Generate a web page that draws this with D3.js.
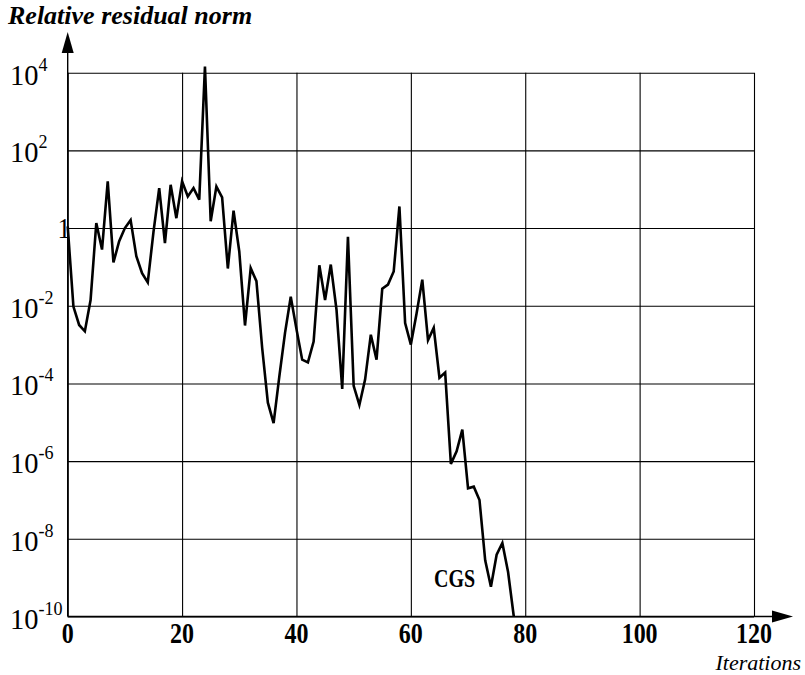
<!DOCTYPE html>
<html>
<head>
<meta charset="utf-8">
<script src="https://cdn.jsdelivr.net/npm/d3@7"></script>
<style>
  html, body { margin: 0; padding: 0; background: #fff; }
  svg { display: block; }
  text { font-family: "Liberation Serif", "Times New Roman", serif; fill: #000; }
</style>
</head>
<body>
<svg id="chart" width="805" height="675"></svg>
<script>
// CGS convergence history: relative residual norm per iteration
const iterations = [
  0, 1, 2, 3, 4, 5, 6, 7, 8, 9, 10, 11, 12, 13, 14, 15, 16, 17, 18, 19,
  20, 21, 22, 23, 24, 25, 26, 27, 28, 29, 30, 31, 32, 33, 34, 35, 36, 37, 38, 39,
  40, 41, 42, 43, 44, 45, 46, 47, 48, 49, 50, 51, 52, 53, 54, 55, 56, 57, 58, 59,
  60, 61, 62, 63, 64, 65, 66, 67, 68, 69, 70, 71, 72, 73, 74, 75, 76, 77, 78
];
const residualNorm = [
  1.1, 9.5e-3, 3.2e-3, 2.2e-3, 1.4e-2, 1.35, 0.28, 16, 0.13, 0.46,
  1.0, 1.6, 0.19, 0.069, 0.04, 0.8, 10.7, 0.41, 13, 1.8,
  16, 6.5, 10.7, 5.4, 1.45e4, 1.5, 11.7, 6.2, 0.091, 2.8,
  0.25, 3.1e-3, 0.093, 0.043, 8.3e-4, 3.2e-5, 9.5e-6, 1.5e-4, 2.0e-3, 1.7e-2,
  2.5e-3, 4.1e-4, 3.5e-4, 1.2e-3, 0.11, 0.014, 0.115, 7.9e-3, 7.2e-5, 0.6,
  8.7e-5, 2.8e-5, 1.26e-4, 1.8e-3, 4.1e-4, 0.0275, 0.035, 0.076, 3.6, 3.6e-3,
  1.0e-3, 6.3e-3, 0.047, 1.3e-3, 2.7e-3, 1.4e-4, 1.9e-4, 8.5e-7, 1.8e-6, 6.5e-6,
  2.0e-7, 2.2e-7, 1.0e-7, 2.8e-9, 5.8e-10, 3.9e-9, 7.8e-9, 1.4e-9, 1e-10
];
const xTicks = [0, 20, 40, 60, 80, 100, 120];
const yExponents = [-10, -8, -6, -4, -2, 0, 2, 4];
const seriesLabel = "CGS";
const yTitle = "Relative residual norm";
const xTitle = "Iterations";

const svg = d3.select("#chart");

const x = d3.scaleLinear().domain([0, 120]).range([67.7, 754]);
const y = d3.scaleLog().domain([1e-10, 1e4]).range([616.5, 72.7]);

const yTickValues = yExponents.map(e => Math.pow(10, e));

// grid: horizontal lines at every second decade
svg.append("g")
  .attr("transform", `translate(${x(0)},0)`)
  .call(d3.axisRight(y).tickValues(yTickValues).tickSize(x(120) - x(0)).tickFormat(""))
  .call(g => g.select(".domain").remove())
  .call(g => g.selectAll("line").attr("stroke", "#000").attr("stroke-width", 1.1));

// grid: vertical lines every 20 iterations
svg.append("g")
  .attr("transform", `translate(0,${y(1e-10)})`)
  .call(d3.axisTop(x).tickValues(xTicks).tickSize(y(1e-10) - y(1e4)).tickFormat(""))
  .call(g => g.select(".domain").remove())
  .call(g => g.selectAll("line").attr("stroke", "#000").attr("stroke-width", 1.1));

// axes with arrow heads
const x0 = x(0), yb = y(1e-10);
svg.append("line").attr("x1", x0).attr("x2", x0).attr("y1", yb).attr("y2", 50)
  .attr("stroke", "#000").attr("stroke-width", 1.4);
svg.append("path").attr("d", `M${x0},32 L${x0 - 6},53 L${x0 + 6},53 Z`).attr("fill", "#000");
svg.append("line").attr("x1", x0).attr("x2", 775).attr("y1", yb).attr("y2", yb)
  .attr("stroke", "#000").attr("stroke-width", 1.4);
svg.append("path").attr("d", `M793,${yb} L772,${yb - 6} L772,${yb + 6} Z`).attr("fill", "#000");

// x tick labels
svg.append("g").selectAll("text")
  .data(xTicks)
  .join("text")
  .attr("transform", d => `translate(${x(d)},${yb + 26}) scale(0.8,1)`)
  .attr("text-anchor", "middle")
  .attr("font-size", 30)
  .attr("font-weight", "bold")
  .text(d => d);

// y tick labels: powers of ten
const yl = svg.append("g");
yExponents.forEach(e => {
  const v = Math.pow(10, e);
  if (e === 0) {
    yl.append("text")
      .attr("transform", `translate(64,${y(v) + 10}) scale(0.9,1)`)
      .attr("text-anchor", "middle")
      .attr("font-size", 29)
      .text("1");
    return;
  }
  const t = yl.append("text")
    .attr("transform", `translate(10,${y(v) + 12}) scale(0.95,1)`)
    .attr("font-size", 30);
  t.append("tspan").text("10");
  t.append("tspan").attr("font-size", 19).attr("dy", -14).text(e);
});

// residual history
const line = d3.line()
  .x((d, i) => x(iterations[i]))
  .y(d => y(d));
svg.append("path")
  .datum(residualNorm)
  .attr("d", line)
  .attr("fill", "none")
  .attr("stroke", "#000")
  .attr("stroke-width", 2.6)
  .attr("stroke-linejoin", "miter");

// series label
svg.append("text")
  .attr("transform", `translate(434,587) scale(0.8,1)`)
  .attr("font-size", 25)
  .attr("font-weight", "bold")
  .text(seriesLabel);

// axis titles
svg.append("text")
  .attr("x", 8).attr("y", 24)
  .attr("font-size", 26)
  .attr("font-style", "italic")
  .attr("font-weight", "bold")
  .text(yTitle);
svg.append("text")
  .attr("x", 801).attr("y", 670)
  .attr("text-anchor", "end")
  .attr("font-size", 22)
  .attr("font-style", "italic")
  .text(xTitle);
</script>
</body>
</html>
